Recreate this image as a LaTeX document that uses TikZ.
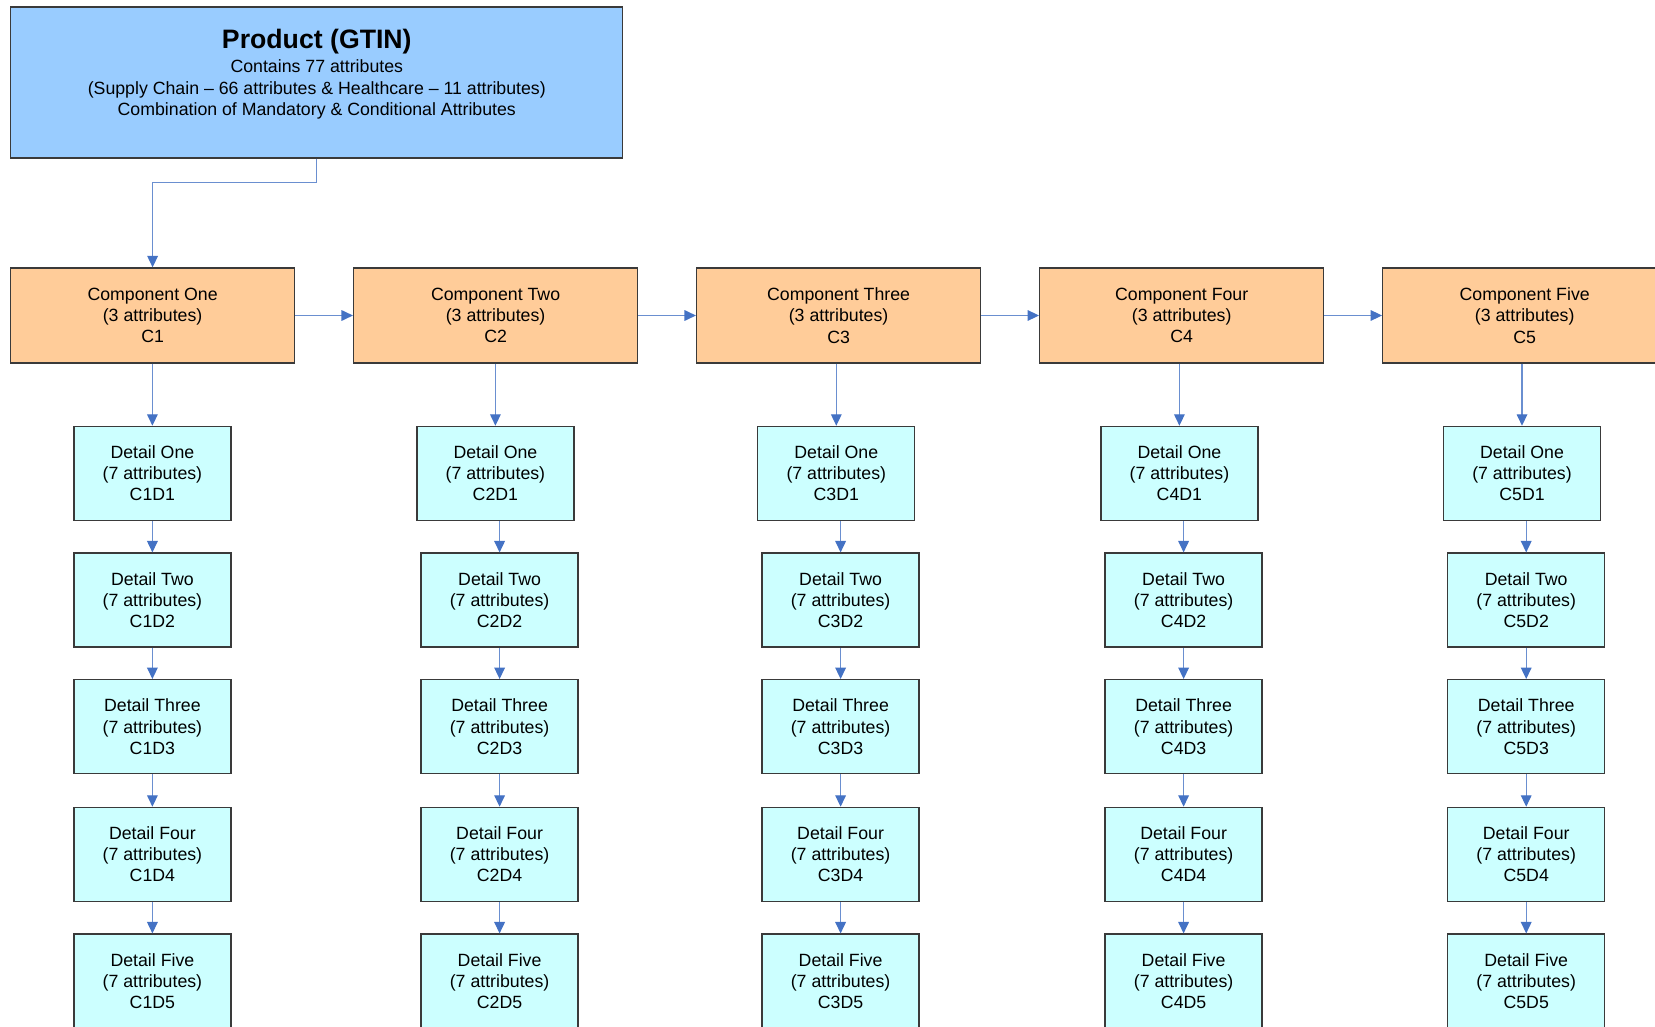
\documentclass[tikz,border=0pt]{standalone}
\usepackage{fontspec}
\setmainfont{Liberation Sans}
\usetikzlibrary{arrows.meta}

\definecolor{prodblue}{HTML}{99CCFF}
\definecolor{compfill}{HTML}{FFCC99}
\definecolor{detfill}{HTML}{CCFFFF}
\definecolor{linkline}{HTML}{6A8FD0}
\definecolor{linkhead}{HTML}{4472C4}
\definecolor{boxedge}{HTML}{3A3A3A}

% one drawing unit is 0.75pt; box sizes below are given in the same units
\tikzset{
  boxbase/.style={draw=boxedge, line width=1pt, inner sep=0pt, align=center,
    font=\fontsize{13.3}{15.9}\selectfont},
  prodbox/.style={boxbase, fill=prodblue, minimum width=612*0.75pt, minimum height=151*0.75pt},
  compbox/.style={boxbase, fill=compfill, minimum width=284*0.75pt, minimum height=95*0.75pt},
  detbox/.style={boxbase, fill=detfill, minimum width=157*0.75pt, minimum height=94*0.75pt},
  conn/.style={draw=linkline, line width=0.9pt,
    -{Triangle[length=8.6pt,width=8pt,color=linkhead]}},
}

\begin{document}
\begin{tikzpicture}[x=0.75pt, y=-0.75pt]
\useasboundingbox (0,0) rectangle (1655,1027);
\clip (0,0) rectangle (1655,1027);

% product box with its text
\node[prodbox] (prod) at (316.8,82.5) {};
\node[inner sep=0pt, font=\fontsize{20}{24}\selectfont\bfseries] (prodtitle) at (316.8,41.5) {Product (GTIN)};
\node[inner sep=0pt, align=center, font=\fontsize{13.3}{16.2}\selectfont] (prodtext) at (316.8,89.5)
  {Contains 77 attributes\\
   (Supply Chain -- 66 attributes \& Healthcare -- 11 attributes)\\
   Combination of Mandatory \& Conditional Attributes};

% components
\foreach \i/\x/\nm in {1/152.6/One, 2/495.6/Two, 3/838.6/Three, 4/1181.7/Four, 5/1524.7/Five}{
  \node[compbox] (c\i) at (\x,315.5) {Component \nm\\(3 attributes)\\C\i};
}

% details: first row, then rows two to five (slightly shifted columns)
\foreach \i/\xa/\xb in {1/152.4/152.4, 2/495.4/499.6, 3/836.3/840.6, 4/1179.4/1183.6, 5/1522.0/1526.2}{
  \node[detbox] (d\i1) at (\xa,473.4) {Detail One\\(7 attributes)\\C\i D1};
  \node[detbox] (d\i2) at (\xb,600.1) {Detail Two\\(7 attributes)\\C\i D2};
  \node[detbox] (d\i3) at (\xb,726.7) {Detail Three\\(7 attributes)\\C\i D3};
  \node[detbox] (d\i4) at (\xb,854.4) {Detail Four\\(7 attributes)\\C\i D4};
  \node[detbox] (d\i5) at (\xb,981.1) {Detail Five\\(7 attributes)\\C\i D5};
}

% product to first component
\draw[conn] (prod.south) -- ++(0,23.5) -| (c1.north);

% component chain
\foreach \i/\j in {1/2, 2/3, 3/4, 4/5}{
  \draw[conn] (c\i.east) -- (c\j.west);
}

% component to its details, and detail to detail
\foreach \i in {1,...,5}{
  \draw[conn] (c\i.south -| d\i1.north) -- (d\i1.north);
  \foreach \k/\m in {1/2, 2/3, 3/4, 4/5}{
    \draw[conn] (d\i\k.south -| d\i\m.north) -- (d\i\m.north);
  }
}
\end{tikzpicture}
\end{document}
